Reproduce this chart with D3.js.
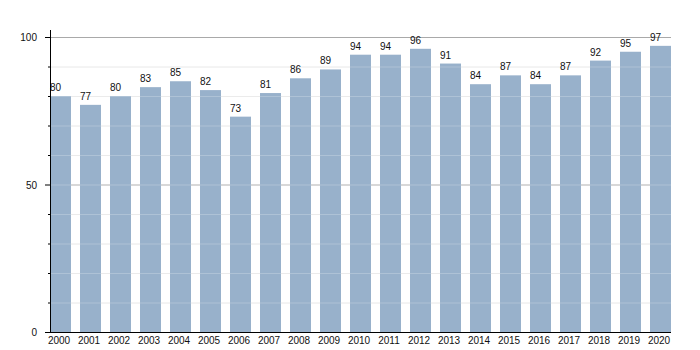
<!DOCTYPE html>
<html>
<head>
<meta charset="utf-8">
<script src="https://cdn.jsdelivr.net/npm/d3@7"></script>
<style>
  html, body { margin: 0; padding: 0; background: #fff; }
  svg text { font-family: "Liberation Sans", Arial, sans-serif; font-size: 10px; fill: #111; }
</style>
</head>
<body>
<svg id="chart" width="700" height="350"></svg>
<script>
// Yearly index values
const years = ["2000","2001","2002","2003","2004","2005","2006","2007","2008","2009","2010",
               "2011","2012","2013","2014","2015","2016","2017","2018","2019","2020"];
const values = [80, 77, 80, 83, 85, 82, 73, 81, 86, 89, 94, 94, 96, 91, 84, 87, 84, 87, 92, 95, 97];
const majorTicks = [0, 50, 100];
const minorTicks = [10, 20, 30, 40, 60, 70, 80, 90];

const svg = d3.select("#chart");
const plotLeft = 50, plotRight = 671, plotTop = 37, plotBottom = 332;

const x = d3.scaleBand().domain(years).range([plotLeft, plotRight]).paddingInner(0.3).paddingOuter(0);
const y = d3.scaleLinear().domain([0, 100]).range([plotBottom, plotTop]);

// gridlines behind the bars
const gridUnder = svg.append("g");
gridUnder.selectAll("line.minor").data(minorTicks).join("line")
  .attr("class", "minor")
  .attr("x1", plotLeft).attr("x2", plotRight)
  .attr("y1", d => y(d) + 0.5).attr("y2", d => y(d) + 0.5)
  .attr("stroke", "#e6e6e6").attr("stroke-width", 1);
gridUnder.selectAll("line.major").data(majorTicks.filter(d => d > 0)).join("line")
  .attr("class", "major")
  .attr("x1", plotLeft).attr("x2", plotRight)
  .attr("y1", d => y(d) + 0.5).attr("y2", d => y(d) + 0.5)
  .attr("stroke", "#a9a9a9").attr("stroke-width", 1);

// bars
svg.append("g").selectAll("rect").data(values).join("rect")
  .attr("x", (d, i) => x(years[i]))
  .attr("width", x.bandwidth())
  .attr("y", d => y(d))
  .attr("height", d => plotBottom - y(d))
  .attr("fill", "#98b1cb");

// faint gridline sheen across the bars
svg.append("g").selectAll("line").data(minorTicks.concat([50])).join("line")
  .attr("x1", plotLeft).attr("x2", plotRight)
  .attr("y1", d => y(d) + 0.5).attr("y2", d => y(d) + 0.5)
  .attr("stroke", "rgba(255,255,255,0.22)").attr("stroke-width", 1);

// value labels
svg.append("g").selectAll("text").data(values).join("text")
  .attr("x", (d, i) => x(years[i]))
  .attr("y", d => y(d) - 5)
  .attr("text-anchor", "start")
  .text(d => d);

// y axis
svg.append("line")
  .attr("x1", plotLeft + 0.5).attr("x2", plotLeft + 0.5)
  .attr("y1", 30).attr("y2", plotBottom)
  .attr("stroke", "#000");
svg.append("g").selectAll("line").data(minorTicks).join("line")
  .attr("x1", plotLeft - 2).attr("x2", plotLeft)
  .attr("y1", d => y(d) + 0.5).attr("y2", d => y(d) + 0.5)
  .attr("stroke", "#000");
svg.append("g").selectAll("line").data(majorTicks).join("line")
  .attr("x1", plotLeft - 5).attr("x2", plotLeft)
  .attr("y1", d => y(d) + 0.5).attr("y2", d => y(d) + 0.5)
  .attr("stroke", "#000");
svg.append("g").selectAll("text").data(majorTicks).join("text")
  .attr("x", 37)
  .attr("y", d => y(d) + 4)
  .attr("text-anchor", "end")
  .text(d => d);

// x axis
svg.append("line")
  .attr("x1", plotLeft).attr("x2", plotRight)
  .attr("y1", plotBottom + 0.5).attr("y2", plotBottom + 0.5)
  .attr("stroke", "#000");
svg.append("g").selectAll("text").data(years).join("text")
  .attr("x", d => x(d) + x.bandwidth() / 2 - 1.5)
  .attr("y", 344)
  .attr("text-anchor", "middle")
  .text(d => d);
</script>
</body>
</html>
